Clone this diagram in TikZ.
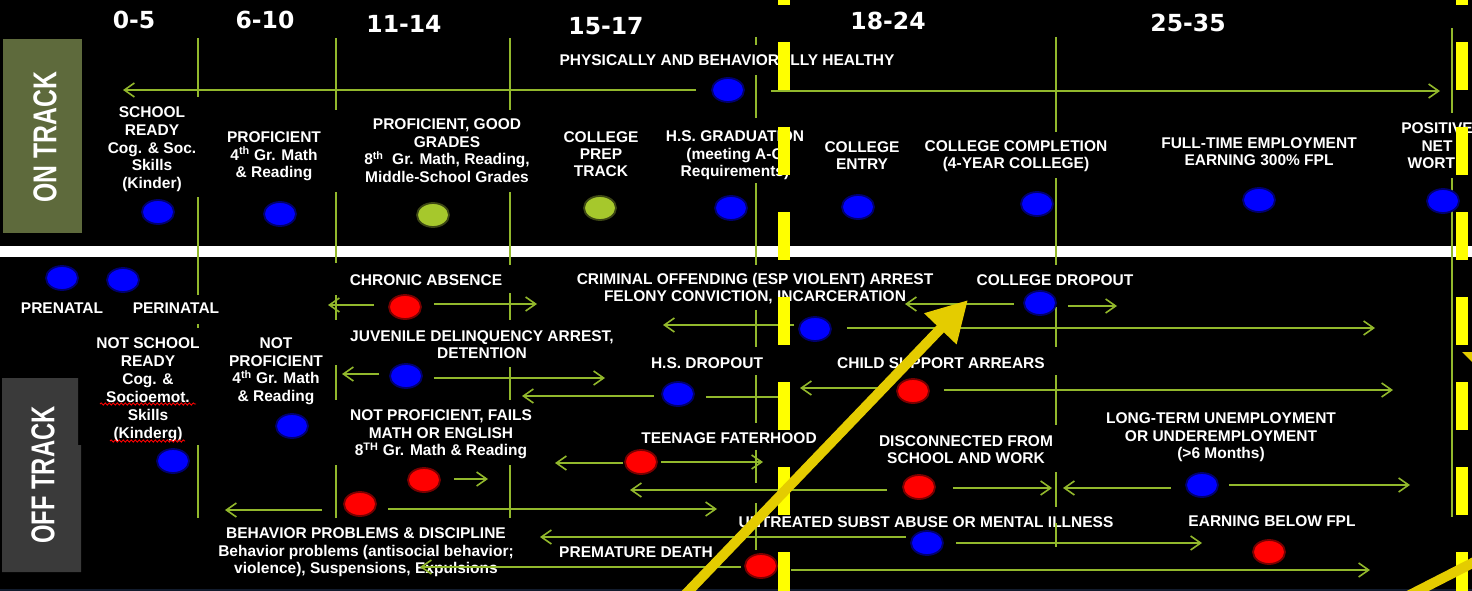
\documentclass[tikz,border=0pt]{standalone}
\usepackage{fontspec}
\setmainfont{Liberation Sans}
\newfontfamily\hdrfont{DejaVu Sans}
\usetikzlibrary{arrows.meta,shapes.geometric,decorations.pathmorphing}

\definecolor{lime}{RGB}{146,184,44}
\definecolor{ontrackbg}{RGB}{94,106,60}
\definecolor{offtrackbg}{RGB}{58,58,58}
\definecolor{dotblue}{RGB}{0,0,255}
\definecolor{dotblueedge}{RGB}{0,0,110}
\definecolor{dotred}{RGB}{255,0,0}
\definecolor{dotrededge}{RGB}{120,0,0}
\definecolor{dotgreen}{RGB}{166,200,44}
\definecolor{dotgreenedge}{RGB}{60,70,20}
\definecolor{markyellow}{RGB}{255,255,0}
\definecolor{arrowyellow}{RGB}{228,204,0}
\definecolor{footline}{RGB}{18,28,46}

\begin{document}
\begin{tikzpicture}[x=1pt,y=-1pt,
  lbl/.style={text=white, font=\bfseries\fontsize{15.5}{#1}\selectfont,
    align=center, anchor=north, inner sep=0pt},
  lbl/.default=17.5,
  hdr/.style={text=white, font=\hdrfont\bfseries\fontsize{23.5}{23.5}\selectfont, inner sep=0pt},
  sidetxt/.style={text=white, rotate=90, font=\bfseries\fontsize{33}{33}\selectfont, inner sep=0pt},
  vln/.style={draw=lime, line width=1.8pt},
  arr/.style={draw=lime, line width=1.6pt, -{Straight Barb[length=10pt,width=14pt]}},
  plainarr/.style={draw=lime, line width=1.6pt},
  dotbase/.style={ellipse, minimum width=32pt, minimum height=24pt, inner sep=0pt, line width=1.8pt},
  bdot/.style={dotbase, fill=dotblue, draw=dotblueedge},
  rdot/.style={dotbase, fill=dotred, draw=dotrededge},
  gdot/.style={dotbase, fill=dotgreen, draw=dotgreenedge},
  ydash/.style={draw=markyellow, line width=12pt, dash pattern=on 48pt off 37pt},
  yarrow/.style={draw=arrowyellow, line width=10pt, -{Triangle[length=40pt,width=42pt]}},
  squiggle/.style={draw=red, line width=0.9pt, decorate,
    decoration={snake, segment length=4pt, amplitude=1.1pt}}
]
\useasboundingbox (0,0) rectangle (1472,591);
\clip (0,0) rectangle (1472,591);
\fill[black] (0,0) rectangle (1472,591);
\fill[footline] (0,589) rectangle (1472,591);

% dividing band between the two tracks
\fill[white] (0,246) rectangle (1472,257);

% side panels
\fill[ontrackbg] (3,39) rectangle (82,233);
\fill[offtrackbg] (2,378) -- (78,378) -- (78,445) -- (81,445) -- (81,572) -- (2,572) -- cycle;
\node[sidetxt] (ontxt) at (45,137) {\scalebox{0.75}[1]{ON TRACK}};
\node[sidetxt] (offtxt) at (43,475) {\scalebox{0.72}[1]{OFF TRACK}};

% age bands
\node[hdr] (h1) at (134,20) {0-5};
\node[hdr] (h2) at (265,20) {6-10};
\node[hdr] (h3) at (404,24) {11-14};
\node[hdr] (h4) at (606,26) {15-17};
\node[hdr] (h5) at (888,21) {18-24};
\node[hdr] (h6) at (1188,23) {25-35};

% on-track milestones
\node[lbl=17.8] (t1) at (152,106.5) {SCHOOL\\READY\\Cog. \& Soc.\\Skills\\(Kinder)};
\node[lbl] (t2) at (274,131.5) {PROFICIENT\\4\textsuperscript{th} Gr. Math\\\& Reading};
\node[lbl=17.7] (t3) at (447,118.5) {PROFICIENT, GOOD\\GRADES\\8\textsuperscript{th}~ Gr. Math, Reading,\\Middle-School Grades};
\node[lbl=17] (t4) at (601,131.5) {COLLEGE\\PREP\\TRACK};
\node[lbl] (t5) at (735,130.5) {H.S. GRADUATION\\(meeting A-G\\Requirements)};
\node[lbl] (t6) at (727,54.5) {PHYSICALLY AND BEHAVIORALLY HEALTHY};
\node[lbl=17] (t7) at (862,141.5) {COLLEGE\\ENTRY};
\node[lbl=17] (t8) at (1016,140.5) {COLLEGE COMPLETION\\(4-YEAR COLLEGE)};
\node[lbl=16.5] (t9) at (1259,137.5) {FULL-TIME EMPLOYMENT\\EARNING 300\% FPL};
\node[lbl] (t10) at (1437,122.5) {POSITIVE\\NET\\WORTH};

% off-track risks
\node[lbl] (t11) at (62,302.5) {PRENATAL};
\node[lbl] (t12) at (176,302.5) {PERINATAL};
\node[lbl=18] (t13) at (148,337.5) {NOT SCHOOL\\READY\\Cog. \&\\Socioemot.\\Skills\\(Kinderg)};
\node[lbl=17.7] (t14) at (276,337.5) {NOT\\PROFICIENT\\4\textsuperscript{th} Gr. Math\\\& Reading};
\node[lbl] (t15) at (426,274.5) {CHRONIC ABSENCE};
\node[lbl=17] (t16) at (482,330.5) {JUVENILE DELINQUENCY ARREST,\\DETENTION};
\node[lbl] (t17) at (441,409.5) {NOT PROFICIENT, FAILS\\MATH OR ENGLISH\\8\textsuperscript{TH} Gr. Math \& Reading};
\node[lbl] (t18) at (366,527.5) {BEHAVIOR PROBLEMS \& DISCIPLINE\\Behavior problems (antisocial behavior;\\violence), Suspensions, Expulsions};
\node[lbl=16.5] (t19) at (755,273.5) {CRIMINAL OFFENDING (ESP VIOLENT) ARREST\\FELONY CONVICTION, INCARCERATION};
\node[lbl] (t20) at (707,357.5) {H.S. DROPOUT};
\node[lbl] (t21) at (729,432.5) {TEENAGE FATERHOOD};
\node[lbl] (t22) at (636,546.5) {PREMATURE DEATH};
\node[lbl] (t23) at (1055,274.5) {COLLEGE DROPOUT};
\node[lbl] (t24) at (941,357.5) {CHILD SUPPORT ARREARS};
\node[lbl=16.5] (t25) at (966,435.5) {DISCONNECTED FROM\\SCHOOL AND WORK};
\node[lbl] (t26) at (926,516.5) {UNTREATED SUBST ABUSE OR MENTAL ILLNESS};
\node[lbl] (t27) at (1221,412.5) {LONG-TERM UNEMPLOYMENT\\OR UNDEREMPLOYMENT\\(>6 Months)};
\node[lbl] (t28) at (1272,515.5) {EARNING BELOW FPL};

% spell-check marks under two words
\draw[squiggle] (100,404) -- (196,404);
\draw[squiggle] (110,441) -- (185,441);

% age-band dividers
\foreach \x/\a/\b in {198/38/97, 198/197/295, 198/324/328, 198/445/518,
  336/38/110, 336/192/263, 336/295/320, 336/365/400, 336/465/518,
  510/38/110, 510/192/265, 510/293/320, 510/367/400, 510/465/518,
  756/37/45, 756/75/118, 756/183/265, 756/310/347, 756/375/423, 756/450/483, 756/503/550,
  1056/37/132, 1056/178/265, 1056/307/347, 1056/375/425, 1056/472/507, 1056/523/547,
  1452/28/113, 1452/178/517}
  \draw[vln] (\x,\a) -- (\x,\b);

% milestone dots
\node[bdot] (sready) at (158,212) {};
\node[bdot] (prof4) at (280,214) {};
\node[gdot] (prof8) at (433,215) {};
\node[gdot] (cprep) at (600,208) {};
\node[bdot] (hsgrad) at (731,208) {};
\node[bdot] (phys) at (728,90) {};
\node[bdot] (centry) at (858,207) {};
\node[bdot] (ccomp) at (1037,204) {};
\node[bdot] (fulltime) at (1259,200) {};
\node[bdot] (networth) at (1443,201) {};

\node[bdot] (prenatal) at (62,278) {};
\node[bdot] (perinatal) at (123,280) {};
\node[bdot] (notready) at (173,461) {};
\node[bdot] (notprof) at (292,426) {};
\node[rdot] (chronic) at (405,307) {};
\node[bdot] (juv) at (406,376) {};
\node[rdot] (fails) at (424,480) {};
\node[rdot] (behav) at (360,504) {};
\node[bdot] (crim) at (815,329) {};
\node[bdot] (hsdrop) at (678,394) {};
\node[rdot] (teen) at (641,462) {};
\node[rdot] (disc) at (919,487) {};
\node[bdot] (untreat) at (927,543) {};
\node[rdot] (premat) at (761,566) {};
\node[bdot] (colldrop) at (1040,303) {};
\node[rdot] (child) at (913,391) {};
\node[bdot] (longterm) at (1202,485) {};
\node[rdot] (earnbelow) at (1269,552) {};

% arrow ends
\coordinate (physL) at (123,90);   \coordinate (physR) at (1440,91);
\coordinate (chrL) at (328,305);   \coordinate (chrR) at (537,304);
\coordinate (juvL) at (342,374);   \coordinate (juvR) at (605,378);
\coordinate (failR) at (488,479);
\coordinate (behL) at (225,510);   \coordinate (behR) at (717,509);
\coordinate (hsL) at (522,396);    \coordinate (hsR) at (784,397);
\coordinate (crimL) at (663,325);  \coordinate (crimR) at (1375,328);
\coordinate (cdL) at (905,304);    \coordinate (cdR) at (1117,306);
\coordinate (chL) at (800,388);    \coordinate (chR) at (1393,390);
\coordinate (teenL) at (555,463);  \coordinate (teenR) at (763,462);
\coordinate (discL) at (630,490);  \coordinate (discR) at (1052,488);
\coordinate (ltL) at (1063,488);   \coordinate (ltR) at (1410,485);
\coordinate (unL) at (540,537);    \coordinate (unR) at (1202,543);
\coordinate (pmL) at (420,567);    \coordinate (pmR) at (1370,570);

% connectors
\draw[arr] ([xshift=-15pt]phys.west |- physL) -- (physL);
\draw[arr] ([xshift=26pt]phys.east |- physR) -- (physR);
\draw[arr] ([xshift=-14pt]chronic.west |- chrL) -- (chrL);
\draw[arr] ([xshift=12pt]chronic.east |- chrR) -- (chrR);
\draw[arr] ([xshift=-10pt]juv.west |- juvL) -- (juvL);
\draw[arr] ([xshift=11pt]juv.east |- juvR) -- (juvR);
\draw[arr] ([xshift=13pt]fails.east |- failR) -- (failR);
\draw[arr] ([xshift=-21pt]behav.west |- behL) -- (behL);
\draw[arr] ([xshift=11pt]behav.east |- behR) -- (behR);
\draw[arr] ([xshift=-7pt]hsdrop.west |- hsL) -- (hsL);
\draw[plainarr] ([xshift=11pt]hsdrop.east |- hsR) -- (hsR);
\draw[arr] ([xshift=-4pt]crim.west |- crimL) -- (crimL);
\draw[arr] ([xshift=15pt]crim.east |- crimR) -- (crimR);
\draw[arr] ([xshift=-9pt]colldrop.west |- cdL) -- (cdL);
\draw[arr] ([xshift=11pt]colldrop.east |- cdR) -- (cdR);
\draw[arr] ([xshift=-12pt]child.west |- chL) -- (chL);
\draw[arr] ([xshift=14pt]child.east |- chR) -- (chR);
\draw[arr] ([xshift=-1pt]teen.west |- teenL) -- (teenL);
\draw[arr] ([xshift=3pt]teen.east |- teenR) -- (teenR);
\draw[arr] ([xshift=-15pt]disc.west |- discL) -- (discL);
\draw[arr] ([xshift=17pt]disc.east |- discR) -- (discR);
\draw[arr] ([xshift=-14pt]longterm.west |- ltL) -- (ltL);
\draw[arr] ([xshift=10pt]longterm.east |- ltR) -- (ltR);
\draw[arr] ([xshift=-4pt]untreat.west |- unL) -- (unL);
\draw[arr] ([xshift=12pt]untreat.east |- unR) -- (unR);
\draw[arr] ([xshift=-3pt]premat.west |- pmL) -- (pmL);
\draw[arr] ([xshift=13pt]premat.east |- pmR) -- (pmR);

% yellow dashed markers
\draw[ydash] (784,-43) -- (784,600);
\draw[ydash] (1462,-43) -- (1462,600);

% yellow pointers
\coordinate (ya0) at (680,600);
\coordinate (ya1) at (968,300);
\draw[yarrow] (ya0) -- (ya1);
\coordinate (yb0) at (1400,600);
\coordinate (yb1) at (1490,554);
\draw[draw=arrowyellow, line width=10pt] (yb0) -- (yb1);
\fill[arrowyellow] (1462,352) -- (1474,352) -- (1472,362) -- cycle;
\end{tikzpicture}
\end{document}
